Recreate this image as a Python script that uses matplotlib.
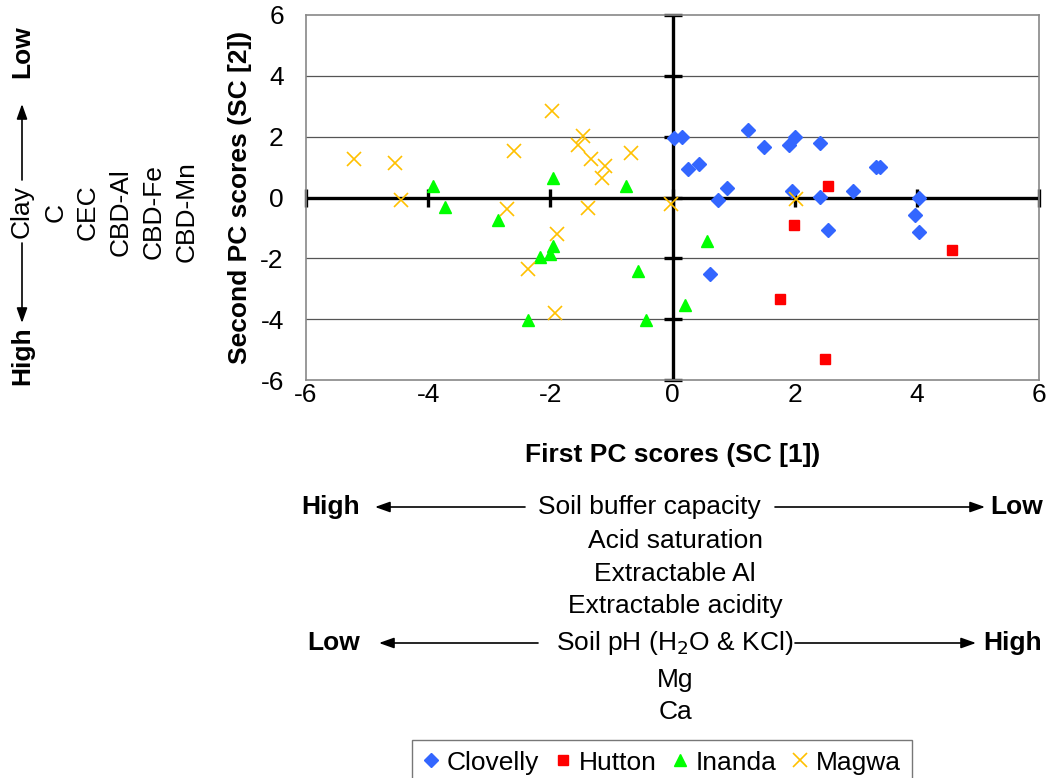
import matplotlib
matplotlib.use("Agg")
import matplotlib.pyplot as plt
from matplotlib.patches import FancyArrowPatch

plt.rcParams['font.family'] = ['Liberation Sans', 'DejaVu Sans']

# soil form PC scores
clovelly_x = [0.02, 0.15, 0.26, 0.43, 1.23, 1.49, 1.91, 2.00, 2.42, 0.90, 0.75,
              1.95, 2.42, 2.95, 3.33, 3.40, 4.03, 3.97, 4.03, 2.54, 0.62]
clovelly_y = [1.95, 2.00, 0.93, 1.10, 2.21, 1.67, 1.73, 2.00, 1.79, 0.31, -0.08,
              0.21, 0.03, 0.20, 1.00, 1.00, -0.02, -0.56, -1.14, -1.08, -2.50]
hutton_x = [2.55, 1.99, 4.58, 1.76, 2.49]
hutton_y = [0.38, -0.90, -1.74, -3.33, -5.30]
inanda_x = [-3.92, -3.72, -2.85, -1.95, -0.76, -1.95, -2.00, -2.17, -0.57,
            -2.37, -0.43, 0.56, 0.20]
inanda_y = [0.37, -0.31, -0.74, 0.65, 0.37, -1.58, -1.85, -1.95, -2.43,
            -4.02, -4.02, -1.43, -3.55]
magwa_x = [-1.98, -5.22, -4.54, -4.45, -2.60, -2.71, -1.47, -1.55, -1.33,
           -1.10, -1.16, -0.68, -1.39, -1.89, -2.37, -1.92, -0.03, 2.02]
magwa_y = [2.85, 1.25, 1.15, -0.08, 1.52, -0.38, 2.01, 1.74, 1.26,
           1.05, 0.63, 1.47, -0.34, -1.19, -2.36, -3.79, -0.23, -0.04]

ticks = [-6, -4, -2, 0, 2, 4, 6]
tick_labels = ['-6', '-4', '-2', '0', '2', '4', '6']

FS = 19

fig = plt.figure(figsize=(10.48, 7.78), dpi=100)
ax = fig.add_axes([306 / 1048, 1 - 380 / 778, 733 / 1048, 365 / 778])

ax.set_xlim(-6, 6)
ax.set_ylim(-6, 6)
for s in ax.spines.values():
    s.set_color('#888888')
    s.set_linewidth(1.2)

for t in [-4, -2, 2, 4]:
    ax.axhline(t, color='#555555', lw=0.9, zorder=1)

# thick axes through the origin with crossing tick marks
ax.axhline(0, color='black', lw=2.4, zorder=2)
ax.axvline(0, color='black', lw=2.4, zorder=2)
ax.plot(ticks, [0] * len(ticks), ls='none', marker='|', ms=13, mew=2.4,
        color='black', zorder=2, clip_on=False)
ax.plot([0] * len(ticks), ticks, ls='none', marker='_', ms=13, mew=2.4,
        color='black', zorder=2, clip_on=False)

ax.plot(clovelly_x, clovelly_y, ls='none', marker='D', ms=6.8,
        color='#3366FF', label='Clovelly', zorder=3)
ax.plot(hutton_x, hutton_y, ls='none', marker='s', ms=7,
        color='#FF0000', label='Hutton', zorder=3)
ax.plot(inanda_x, inanda_y, ls='none', marker='^', ms=8.5,
        color='#00FF00', label='Inanda', zorder=3)
ax.plot(magwa_x, magwa_y, ls='none', marker='x', ms=10, mew=1.2,
        color='#FFC000', label='Magwa', zorder=3)

ax.set_xticks(ticks)
ax.set_xticklabels(tick_labels)
ax.set_yticks(ticks)
ax.set_yticklabels(tick_labels)
ax.tick_params(length=0, labelsize=FS)
ax.tick_params(axis='x', pad=2)
ax.tick_params(axis='y', pad=16)
ax.set_xlabel('First PC scores (SC [1])', fontsize=FS, fontweight='bold', labelpad=26)
ax.set_ylabel('Second PC scores (SC [2])', fontsize=FS, fontweight='bold', labelpad=6)

leg = fig.legend(loc='upper center', bbox_to_anchor=(662 / 1048, 1 - 740 / 778), ncol=4,
                 fontsize=FS, frameon=True, fancybox=False, edgecolor='#555555',
                 handlelength=0.6, handletextpad=0.3, columnspacing=0.6,
                 borderpad=0.4, borderaxespad=0)
leg.get_frame().set_linewidth(1.0)


# interpretation annotations
def fy(py):
    return 1 - py / 778


def fx(px):
    return px / 1048


def arrow(p0, p1):
    fig.add_artist(FancyArrowPatch((fx(p0[0]), fy(p0[1])), (fx(p1[0]), fy(p1[1])),
                                   transform=fig.transFigure, mutation_scale=20,
                                   arrowstyle='-|>,head_length=0.45,head_width=0.16',
                                   color='black', lw=1.2, shrinkA=0, shrinkB=0))


fig.text(fx(649), fy(507), 'Soil buffer capacity', ha='center', va='center', fontsize=FS)
lines_x1 = ['Acid saturation', 'Extractable Al', 'Extractable acidity']
rows1 = [541, 574, 606]
for txt, py in zip(lines_x1, rows1):
    fig.text(fx(675), fy(py), txt, ha='center', va='center', fontsize=FS)
fig.text(fx(331), fy(507), 'High', ha='center', va='center', fontsize=FS, fontweight='bold')
fig.text(fx(1017), fy(507), 'Low', ha='center', va='center', fontsize=FS, fontweight='bold')
arrow((525, 507), (375, 507))
arrow((775, 507), (985, 507))

lines_x2 = ['Soil pH (H$_2$O & KCl)', 'Mg', 'Ca']
rows2 = [643, 680, 712]
for txt, py in zip(lines_x2, rows2):
    fig.text(fx(675), fy(py), txt, ha='center', va='center', fontsize=FS)
fig.text(fx(334), fy(643), 'Low', ha='center', va='center', fontsize=FS, fontweight='bold')
fig.text(fx(1013), fy(643), 'High', ha='center', va='center', fontsize=FS, fontweight='bold')
arrow((538, 643), (379, 643))
arrow((795, 643), (976, 643))

lines_y = ['Clay', 'C', 'CEC', 'CBD-Al', 'CBD-Fe', 'CBD-Mn']
cols = [22, 56, 88, 121, 154, 187]
for txt, px in zip(lines_y, cols):
    fig.text(fx(px), fy(212), txt, ha='center', va='center', fontsize=FS, rotation=90)
fig.text(fx(22), fy(52), 'Low', ha='center', va='center', fontsize=FS,
         fontweight='bold', rotation=90)
fig.text(fx(22), fy(356), 'High', ha='center', va='center', fontsize=FS,
         fontweight='bold', rotation=90)
arrow((22, 180), (22, 104))
arrow((22, 243), (22, 323))

fig.savefig('out.png', dpi=100)
